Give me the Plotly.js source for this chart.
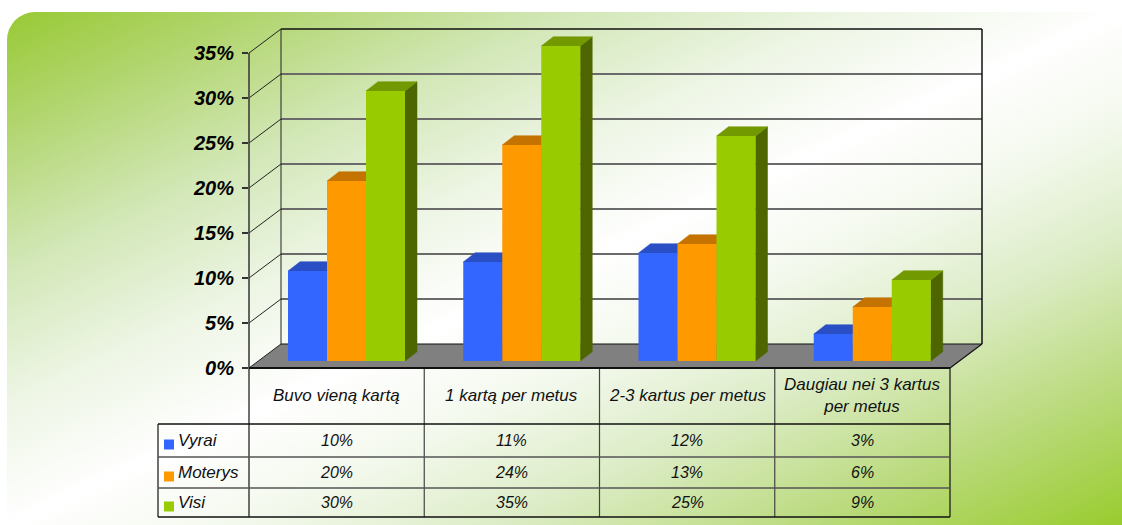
<!DOCTYPE html>
<html><head><meta charset="utf-8">
<script src="https://cdn.plot.ly/plotly-3.0.1.min.js"></script>
<style>
html,body{margin:0;padding:0;background:#fff;width:1122px;height:525px;overflow:hidden;}
#bg{position:absolute;left:7px;top:12px;width:1115px;height:513px;border-top-left-radius:28px;
background:linear-gradient(to bottom right,#98c934 0%,#b3d672 12%,#d2e7b6 25%,#edf5e4 38%,#ffffff 50%,#f4f9ee 60%,#dcecc6 72%,#bada7c 86%,#99cc2e 100%);}
#chart{position:absolute;left:0;top:0;width:1122px;height:525px;}
</style></head>
<body>
<div id="bg"></div>
<div id="chart"></div>
<script>
// ---- data ----
const categories = ['Buvo vieną kartą', '1 kartą per metus', '2-3 kartus per metus', 'Daugiau nei 3 kartus<br>per metus'];
const seriesNames = ['Vyrai', 'Moterys', 'Visi'];
const vyrai = [10, 11, 12, 3];
const moterys = [20, 24, 13, 6];
const visi = [30, 35, 25, 9];
const yTickVals = [0, 5, 10, 15, 20, 25, 30, 35];
const yTickText = ['0%', '5%', '10%', '15%', '20%', '25%', '30%', '35%'];

// ---- styles / geometry ----
const series = [vyrai, moterys, visi];
const frontColors = ['#3366FF', '#FF9900', '#99CC00'];
const topColors = ['#2A4FC4', '#C47300', '#739900'];
const sideColors = ['#1F3C99', '#B36B00', '#4D6600'];

const PL = 249, PR = 982, PT = 29, PB = 368;      // plot area in px
const PW = PR - PL, PH = PB - PT;
const CAT = 175.25;                                 // px per category
const PCT = 9;                                      // px per percent
const depthX = 32 / CAT, depthY = 24 / PCT;         // back wall offset
const barBase = 7 / PCT;                            // bar front bottom above floor front
const barLeft0 = 39 / CAT;                          // first bar left edge inside a category
const barW = 39 / CAT;
const sideX = 12 / CAT, sideY = 9.3 / PCT;
const xMax = PW / CAT, yMax = PH / PCT;

const DX = x => x * CAT / PW;           // data x -> paper
const DY = y => y * PCT / PH;           // data y -> paper
const PXp = p => (p - PL) / PW;         // pixel x -> paper
const PYp = p => (PB - p) / PH;         // pixel y -> paper

const traces = [];
// side & top faces (under all fronts)
series.forEach((vals, j) => {
  const sx = [], sy = [], tx = [], ty = [];
  vals.forEach((v, i) => {
    const xl = i + barLeft0 + j * barW, xr = xl + barW;
    const b = barBase, t = barBase + v;
    sx.push(xr, xr, xr + sideX, xr + sideX, xr, null);
    sy.push(b, t, t + sideY, b + sideY, b, null);
    tx.push(xl, xr, xr + sideX, xl + sideX, xl, null);
    ty.push(t, t, t + sideY, t + sideY, t, null);
  });
  traces.push({type: 'scatter', mode: 'lines', x: sx, y: sy, fill: 'toself', fillcolor: sideColors[j],
    line: {color: sideColors[j], width: 0.5}, hoverinfo: 'skip', showlegend: false, xaxis: 'x', yaxis: 'y'});
  traces.push({type: 'scatter', mode: 'lines', x: tx, y: ty, fill: 'toself', fillcolor: topColors[j],
    line: {color: topColors[j], width: 0.5}, hoverinfo: 'skip', showlegend: false, xaxis: 'x', yaxis: 'y'});
});
// front faces as bars on overlay axes
series.forEach((vals, j) => {
  traces.push({type: 'bar', name: seriesNames[j],
    x: vals.map((v, i) => i + barLeft0 + j * barW + barW / 2),
    y: vals, base: vals.map(() => barBase), width: barW,
    marker: {color: frontColors[j], line: {width: 0}},
    hoverinfo: 'skip', showlegend: false, xaxis: 'x2', yaxis: 'y2'});
});

// ---- structure shapes ----
const shapes = [];
function ln(x0, y0, x1, y1, color, width, layer) {
  shapes.push({type: 'line', xref: 'paper', yref: 'paper', x0, y0, x1, y1,
    line: {color, width}, layer: layer || 'below'});
}
function dln(x0, y0, x1, y1, color, width, layer) { ln(DX(x0), DY(y0), DX(x1), DY(y1), color, width, layer); }
function poly(pts, fill) {
  const p = pts.map((q, k) => (k ? 'L' : 'M') + DX(q[0]) + ',' + DY(q[1])).join(' ') + ' Z';
  shapes.push({type: 'path', xref: 'paper', yref: 'paper', path: p, fillcolor: fill, line: {width: 0}, layer: 'below'});
}
const nCat = categories.length;
// floor
poly([[0, 0], [nCat, 0], [nCat + depthX, depthY], [depthX, depthY]], '#808080');
// back wall gridlines
yTickVals.forEach(v => {
  if (v > 0 && v < 35) dln(depthX, v + depthY, nCat + depthX, v + depthY, '#6a6a6a', 2);
});
dln(depthX, 35 + depthY, nCat + depthX, 35 + depthY, '#111', 1.5);
dln(depthX, depthY, nCat + depthX, depthY, '#111', 1.2);
dln(depthX, depthY, depthX, 35 + depthY, '#222', 1);
dln(nCat + depthX, depthY, nCat + depthX, 35 + depthY, '#111', 1.5);
// side wall diagonals
yTickVals.forEach(v => dln(0, v, depthX, v + depthY, '#222', 1));
dln(nCat, 0, nCat + depthX, depthY, '#111', 1.2);
// front axis
dln(0, 0, 0, 35, '#333', 1.5);

// ---- table ----
const rowLines = [424, 457, 488, 517];
const legendLeft = 158;
const tColor = '#111';
for (let i = 0; i <= nCat; i++) {
  const c = (i === 0 || i === nCat) ? '#111' : '#444';
  ln(DX(i), PYp(368), DX(i), PYp(517), c, 1.2, 'above');
}
ln(PXp(legendLeft), PYp(424), PXp(legendLeft), PYp(517), '#111', 1.2, 'above');
rowLines.forEach((r, k) => {
  const c = (k === 0 || k === rowLines.length - 1) ? '#111' : '#555';
  ln(PXp(legendLeft), PYp(r), DX(nCat), PYp(r), c, (k === 0 || k === rowLines.length - 1) ? 1.5 : 1.6, 'above');
});
dln(0, 0, nCat, 0, '#111', 2.2, 'above');

const annotations = [];
const tFont = {family: 'Liberation Sans, Arial, sans-serif', size: 16, color: tColor, style: 'italic'};
categories.forEach((c, i) => {
  annotations.push({xref: 'paper', yref: 'paper', x: DX(i + 0.5), y: PYp(395.5), text: c, showarrow: false,
    xanchor: 'center', yanchor: 'middle', font: Object.assign({}, tFont, {size: 17})});
});
series.forEach((vals, j) => {
  const yc = (rowLines[j] + rowLines[j + 1]) / 2;
  vals.forEach((v, i) => {
    annotations.push({xref: 'paper', yref: 'paper', x: DX(i + 0.5), y: PYp(yc), text: v + '%', showarrow: false,
      xanchor: 'center', yanchor: 'middle', font: tFont});
  });
  annotations.push({xref: 'paper', yref: 'paper', x: PXp(176), y: PYp(yc), text: seriesNames[j], showarrow: false,
    xanchor: 'left', yanchor: 'middle', font: Object.assign({}, tFont, {size: 17})});
  shapes.push({type: 'rect', xref: 'paper', yref: 'paper', x0: PXp(164), x1: PXp(174), y0: PYp(yc - 1), y1: PYp(yc + 9),
    fillcolor: frontColors[j], line: {width: 0}, layer: 'above'});
});

const layout = {
  width: 1122, height: 525,
  margin: {l: PL, r: 1122 - PR, t: PT, b: 525 - PB, pad: 0},
  paper_bgcolor: 'rgba(0,0,0,0)', plot_bgcolor: 'rgba(0,0,0,0)',
  showlegend: false, barmode: 'overlay',
  xaxis: {range: [0, xMax], visible: false, fixedrange: true},
  yaxis: {range: [0, yMax], tickvals: yTickVals, ticktext: yTickText, ticks: 'outside', ticklen: 6,
    tickwidth: 1.2, tickcolor: '#333', showgrid: false, zeroline: false, showline: false, fixedrange: true,
    ticklabelstandoff: 4,
    tickfont: {family: 'Liberation Sans, Arial, sans-serif', size: 20, color: '#000', weight: 'bold', style: 'italic'}},
  xaxis2: {range: [0, xMax], overlaying: 'x', anchor: 'y2', visible: false, fixedrange: true},
  yaxis2: {range: [0, yMax], overlaying: 'y', anchor: 'x2', visible: false, fixedrange: true},
  shapes, annotations
};
Plotly.newPlot('chart', traces, layout, {displayModeBar: false, staticPlot: true});
</script>
</body></html>
